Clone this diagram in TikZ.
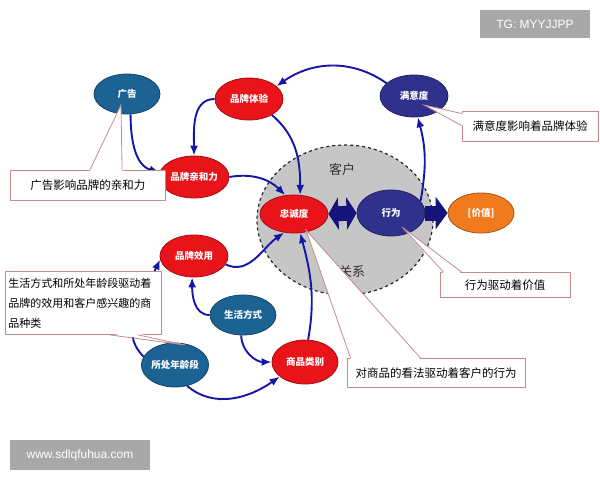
\documentclass[tikz,border=0pt]{standalone}
\usepackage{fontspec}
\setmainfont{Liberation Sans}
\newfontfamily\cjk{Noto Sans CJK SC}
\usepackage{tikz}
\usetikzlibrary{shapes.geometric,arrows.meta,calc}

\definecolor{brandred}{HTML}{E8141A}
\definecolor{brandteal}{HTML}{1C6394}
\definecolor{brandnavy}{HTML}{30318C}
\definecolor{brandorange}{HTML}{F07A1C}
\definecolor{linkblue}{HTML}{1616A6}
\definecolor{fatnavy}{HTML}{14147A}
\definecolor{notepink}{HTML}{C48A8E}
\definecolor{wmgray}{HTML}{A8A8A8}

\tikzset{
  bubble/.style={ellipse, draw=#1!70!black, fill=#1, line width=0.8pt,
    inner sep=0pt, minimum width=68pt, minimum height=42pt, text=white,
    font=\cjk\fontsize{9.5}{10}\selectfont\bfseries},
  link/.style={color=linkblue, line width=1.9pt, -{Latex[length=10pt,width=8pt]}},
  fat/.style={draw=fatnavy, line width=15pt},
  note/.style={draw=notepink, fill=white, line width=0.9pt, inner sep=4pt,
    font=\cjk\fontsize{11.5}{21}\selectfont, text=black},
  pointer/.style={draw=notepink, line width=0.8pt},
  wmark/.style={fill=wmgray, text=white, inner sep=0pt, font=\fontsize{12}{12}\selectfont}
}

\begin{document}
\begin{tikzpicture}[x=1pt,y=1pt]
  \useasboundingbox (0,0) rectangle (600,-480);

  % customer circle
  \node[ellipse, fill=gray!45, draw=gray!30!black, dashed, line width=1.2pt,
    minimum width=176pt, minimum height=150pt] (kh) at (345,-220) {};
  \node[font=\cjk\fontsize{13}{13}\selectfont, text=black!80] (khtop) at (342,-170) {客户};
  \node[font=\cjk\fontsize{13}{13}\selectfont, text=black!80] (khbot) at (352,-272) {关系};

  % bubbles
  \node[bubble=brandteal, minimum width=66pt, minimum height=40pt] (gg) at (127,-94) {广告};
  \node[bubble=brandred] (ty) at (249,-99) {品牌体验};
  \node[bubble=brandnavy, minimum width=68pt] (my) at (414,-96) {满意度};
  \node[bubble=brandred, minimum width=70pt] (qh) at (194,-177) {品牌亲和力};
  \node[bubble=brandred, minimum height=38pt] (zc) at (294,-214) {忠诚度};
  \node[bubble=brandnavy, minimum height=46pt] (xw) at (391,-213) {行为};
  \node[bubble=brandorange, minimum width=66pt, minimum height=40pt] (jz) at (481,-213) {[价值]};
  \node[bubble=brandred] (xy) at (194,-256) {品牌效用};
  \node[bubble=brandteal, minimum width=66pt, minimum height=40pt] (sh) at (243,-315) {生活方式};
  \node[bubble=brandteal, minimum width=66pt, minimum height=44pt] (nl) at (175,-365) {所处年龄段};
  \node[bubble=brandred, minimum width=66pt, minimum height=44pt] (sp) at (305,-362) {商品类别};

  % block arrows
  \draw[fat, {Triangle[length=10pt,width=32pt]}-{Triangle[length=10pt,width=32pt]}] (zc.east) -- (xw.west);
  \draw[fat, -{Triangle[length=12pt,width=32pt]}] (xw.east) -- (jz.west);

  % links
  \path[link]
    (gg.-80) edge[out=-90, in=165] (qh.172)
    (ty.180) edge[out=180, in=90] (qh.north)
    (ty.-35) edge[out=-40, in=90] (zc.72)
    (qh.east) edge[out=10, in=135] (zc.115)
    (my.155) edge[out=145, in=35] (ty.25)
    (xw.22) edge[out=80, in=-75] (my.-80)
    (xy.-15) edge[out=-25, in=-145] (zc.-118)
    (sp.82) edge[out=80, in=-75] (zc.-72)
    (sh.west) edge[out=180, in=-90] (xy.-95)
    (sh.-95) edge[out=-90, in=180] (sp.west)
    (nl.165) edge[out=135, in=-115] (xy.186)
    (nl.-60) edge[out=-40, in=-145] (sp.-150);

  % notes
  \node[note, minimum width=155pt, minimum height=30pt] (ngg) at (88,-185) {广告影响品牌的亲和力};
  \fill[white] ($(ngg.north west)+(80,-1.5)$) -- ($(gg.center)+(-6,-11)$) -- ($(ngg.north west)+(112,-1.5)$) -- cycle;
  \draw[pointer] ($(ngg.north west)+(80,0)$) -- ($(gg.center)+(-6,-11)$) -- ($(ngg.north west)+(112,0)$);

  \node[note, minimum width=136pt, minimum height=30pt] (nmy) at (530,-126) {满意度影响着品牌体验};
  \fill[white] ($(nmy.north west)+(1.5,-3)$) -- ($(my.center)+(10,-9)$) -- ($(nmy.north west)+(1.5,-15)$) -- cycle;
  \draw[pointer] ($(nmy.north west)+(0,-3)$) -- ($(my.center)+(10,-9)$) -- ($(nmy.north west)+(0,-15)$);

  \node[note, minimum width=130pt, minimum height=25pt] (nxw) at (505,-285) {行为驱动着价值};
  \fill[white] ($(nxw.north west)+(4,-1.5)$) -- ($(xw.center)+(11,-14)$) -- ($(nxw.north west)+(22,-1.5)$) -- cycle;
  \draw[pointer] ($(nxw.north west)+(4,0)$) -- ($(xw.center)+(11,-14)$) -- ($(nxw.north west)+(22,0)$);

  \node[note, minimum width=178pt, minimum height=29pt] (nzc) at (436,-373) {对商品的看法驱动着客户的行为};
  \fill[white] ($(nzc.north west)+(4,-1.5)$) -- ($(zc.center)+(12,-16)$) -- ($(nzc.north west)+(74,-1.5)$) -- cycle;
  \draw[pointer] ($(nzc.north west)+(4,0)$) -- ($(zc.center)+(12,-16)$) -- ($(nzc.north west)+(74,0)$);

  \node[note, anchor=north west, text width=150pt, align=left, minimum height=63pt,
    inner sep=3pt, font=\cjk\fontsize{11}{20}\selectfont] (nsh) at (5,-271)
    {生活方式和所处年龄段驱动着\\品牌的效用和客户感兴趣的商\\品种类};
  \fill[white] ($(nsh.south west)+(105,1.5)$) -- ($(nl.center)+(10,20)$) -- ($(nsh.south west)+(133,1.5)$) -- cycle;
  \draw[pointer] ($(nsh.south west)+(105,0)$) -- ($(nl.center)+(10,20)$) -- ($(nsh.south west)+(133,0)$);

  % watermarks
  \node[wmark, minimum width=110pt, minimum height=28pt] (tg) at (535,-24) {TG: MYYJJPP};
  \node[wmark, minimum width=140pt, minimum height=30pt] (www) at (80,-455) {www.sdlqfuhua.com};
\end{tikzpicture}
\end{document}
